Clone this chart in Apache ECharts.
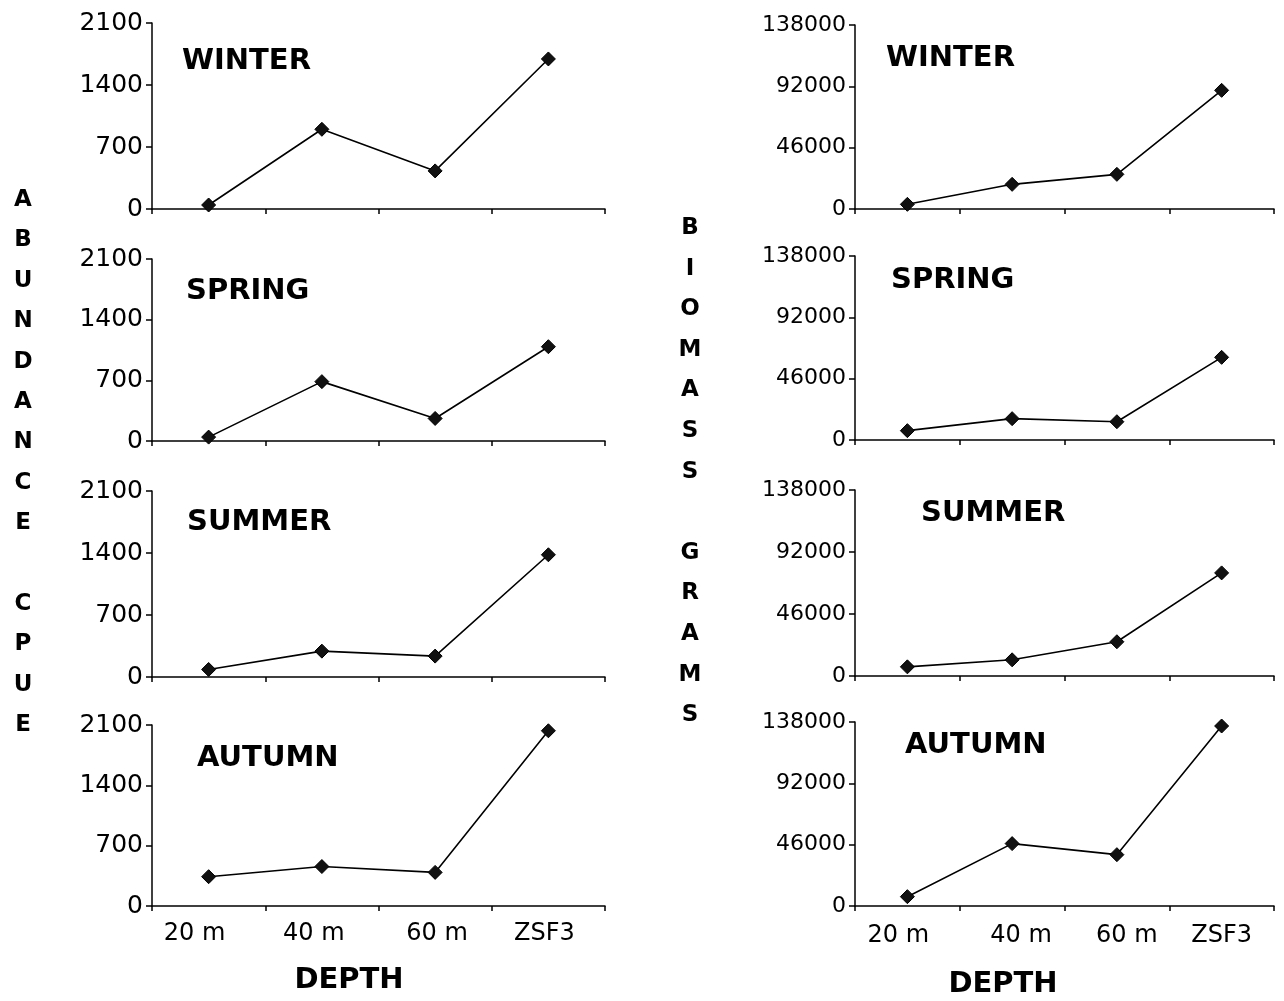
<!DOCTYPE html>
<html>
<head>
<meta charset="utf-8">
<script src="https://cdn.jsdelivr.net/npm/echarts@6/dist/echarts.min.js"></script>
<style>
html,body{margin:0;padding:0;background:#fff;}
#c{width:1284px;height:1001px;}
</style>
</head>
<body>
<div id="c"></div>
<script>
// ---- data ----
const categories = ['20 m', '40 m', '60 m', 'ZSF3'];
const seasons = ['WINTER', 'SPRING', 'SUMMER', 'AUTUMN'];
const abundanceTicks = [0, 700, 1400, 2100];
const biomassTicks = [0, 46000, 92000, 138000];
const winterAbundance = [45, 900, 430, 1694];
const springAbundance = [45, 685, 260, 1088];
const summerAbundance = [85, 292, 236, 1380];
const autumnAbundance = [340, 458, 390, 2033];
const winterBiomass = [3500, 18500, 26000, 89000];
const springBiomass = [7000, 16000, 13700, 62000];
const summerBiomass = [6800, 12000, 25400, 76500];
const autumnBiomass = [7000, 46800, 38500, 135000];
const leftAxisTitle = 'ABUNDANCE CPUE';
const rightAxisTitle = 'BIOMASS GRAMS';
const xAxisTitle = 'DEPTH';

const abundance = [winterAbundance, springAbundance, summerAbundance, autumnAbundance];
const biomass = [winterBiomass, springBiomass, summerBiomass, autumnBiomass];

// ---- layout ----
const leftGrids = [
  {left: 152, top: 23, width: 453, height: 186},
  {left: 152, top: 259, width: 453, height: 182},
  {left: 152, top: 491, width: 453, height: 186},
  {left: 152, top: 725, width: 453, height: 181}
];
const rightGrids = [
  {left: 855, top: 25, width: 419, height: 184},
  {left: 855, top: 256, width: 419, height: 184},
  {left: 855, top: 490, width: 419, height: 186},
  {left: 855, top: 722, width: 419, height: 184}
];
const leftTitlePos = [[182, 61], [186, 291], [187, 522], [197, 758]];
const rightTitlePos = [[886, 58], [891, 280], [921, 513], [905, 745]];
// horizontal nudges of the category labels (px, negative = left)
const leftLabelShift = [-14, -8, 2, -4];
const rightLabelShift = [-9, 9, 10, 0];

const tickFont = '"DejaVu Sans", sans-serif';
const boldFont = '"DejaVu Sans", sans-serif';

const grids = [], xAxes = [], yAxes = [], series = [], graphics = [];

function richFor(shifts) {
  const r = {};
  shifts.forEach((s, i) => {
    r['c' + i] = {fontFamily: tickFont, fontSize: 24, color: '#000',
      padding: s < 0 ? [0, -2 * s, 0, 0] : [0, 0, 0, 2 * s]};
  });
  return r;
}

function addPanel(g, data, ticks, isBottom, labelSize, labelMargin, shifts) {
  const idx = grids.length;
  grids.push(Object.assign({containLabel: false}, g));
  xAxes.push({
    type: 'category', gridIndex: idx, data: categories, boundaryGap: true,
    axisLine: {show: true, lineStyle: {color: '#000', width: 1.5}},
    axisTick: {show: true, length: 5, inside: false, alignWithLabel: false, lineStyle: {color: '#000', width: 1.5}},
    axisLabel: {show: isBottom, color: '#000', fontFamily: tickFont, fontSize: 24, margin: labelMargin, interval: 0,
      formatter: (v, i) => '{c' + i + '|' + v + '}', rich: richFor(shifts)},
    splitLine: {show: false}
  });
  yAxes.push({
    type: 'value', gridIndex: idx, min: ticks[0], max: ticks[ticks.length - 1],
    interval: ticks[1] - ticks[0],
    axisLine: {show: true, lineStyle: {color: '#000', width: 1.5}},
    axisTick: {show: true, length: 6, inside: false, lineStyle: {color: '#000', width: 1.5}},
    axisLabel: {color: '#000', fontFamily: tickFont, fontSize: labelSize, margin: 9,
      formatter: v => String(v)},
    splitLine: {show: false}
  });
  series.push({
    type: 'line', xAxisIndex: idx, yAxisIndex: idx, data: data,
    symbol: 'diamond', symbolSize: 14,
    itemStyle: {color: '#111', borderColor: '#000', borderWidth: 1},
    lineStyle: {color: '#000', width: 1.6},
    animation: false
  });
}

for (let i = 0; i < 4; i++) {
  addPanel(leftGrids[i], abundance[i], abundanceTicks, i === 3, 25, 16, leftLabelShift);
  addPanel(rightGrids[i], biomass[i], biomassTicks, i === 3, 22, 18, rightLabelShift);
  graphics.push({type: 'text', x: leftTitlePos[i][0], y: leftTitlePos[i][1],
    style: {text: seasons[i], font: 'bold 29px ' + boldFont, fill: '#000', verticalAlign: 'middle', textVerticalAlign: 'middle'}});
  graphics.push({type: 'text', x: rightTitlePos[i][0], y: rightTitlePos[i][1],
    style: {text: seasons[i], font: 'bold 29px ' + boldFont, fill: '#000', verticalAlign: 'middle', textVerticalAlign: 'middle'}});
}

function verticalLetters(str, x, y0, step) {
  const chars = str.split('');
  chars.forEach((ch, i) => {
    if (ch === ' ') return;
    graphics.push({type: 'text', x: x, y: y0 + i * step,
      style: {text: ch, font: 'bold 23px ' + boldFont, fill: '#000', align: 'center', textAlign: 'center',
        verticalAlign: 'middle', textVerticalAlign: 'middle'}});
  });
}
verticalLetters(leftAxisTitle, 23, 200, 40.4);
verticalLetters(rightAxisTitle, 690, 228, 40.6);

graphics.push({type: 'text', x: 349, y: 980,
  style: {text: xAxisTitle, font: 'bold 29px ' + boldFont, fill: '#000', align: 'center', textAlign: 'center', verticalAlign: 'middle', textVerticalAlign: 'middle'}});
graphics.push({type: 'text', x: 1003, y: 984,
  style: {text: xAxisTitle, font: 'bold 29px ' + boldFont, fill: '#000', align: 'center', textAlign: 'center', verticalAlign: 'middle', textVerticalAlign: 'middle'}});

const chart = echarts.init(document.getElementById('c'), null, {renderer: 'canvas'});
chart.setOption({
  backgroundColor: '#fff',
  animation: false,
  grid: grids,
  xAxis: xAxes,
  yAxis: yAxes,
  series: series,
  graphic: graphics
});
</script>
</body>
</html>
